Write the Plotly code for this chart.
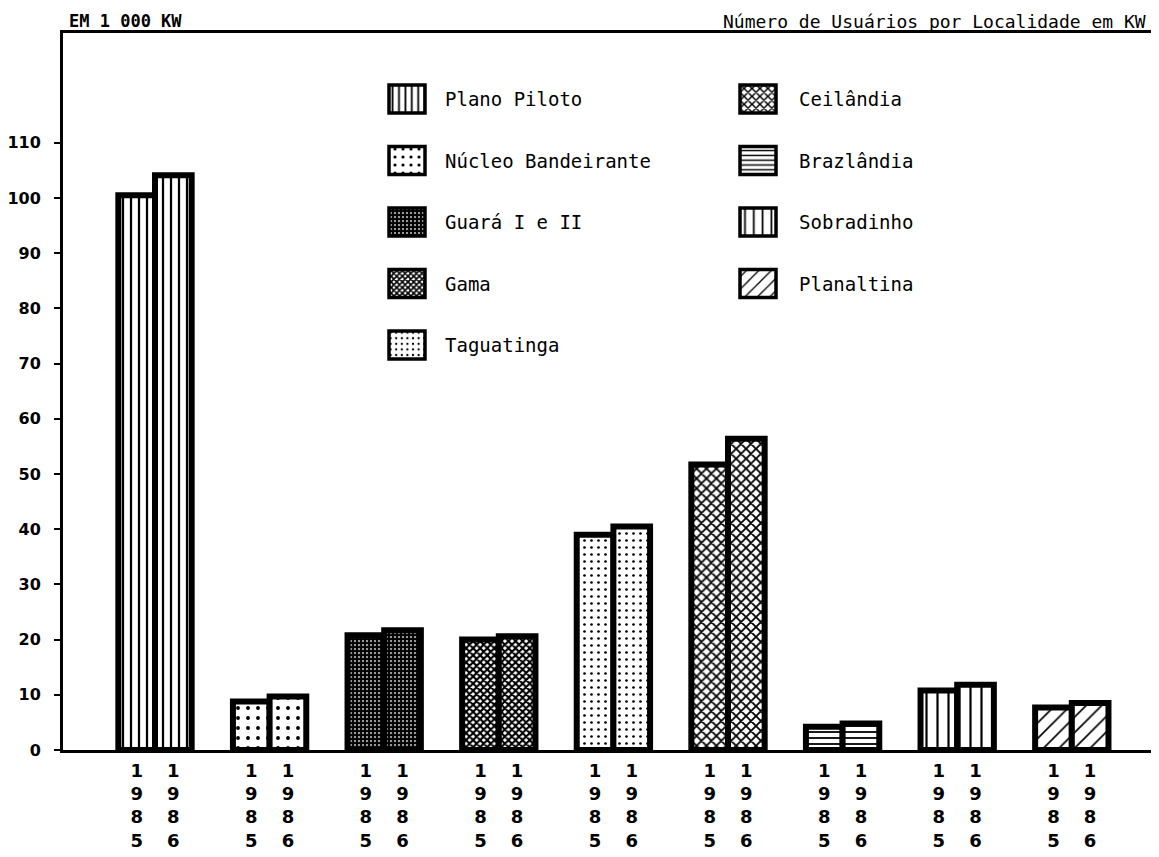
import plotly.graph_objects as go

# ---- data ----
localidades = ["Plano Piloto", "Núcleo Bandeirante", "Guará I e II", "Gama", "Taguatinga",
               "Ceilândia", "Brazlândia", "Sobradinho", "Planaltina"]
years = ["1985", "1986"]
v1985 = [100.5, 8.8, 20.8, 20.0, 39.0, 51.7, 4.2, 10.8, 7.7]
v1986 = [104.1, 9.7, 21.7, 20.6, 40.5, 56.4, 4.8, 11.8, 8.5]
y_ticks = [0, 10, 20, 30, 40, 50, 60, 70, 80, 90, 100, 110]

# ---- styles (patterns per locality) ----
pat_shape = ["|", ".", ".", "x", ".", "x", "-", "|", "/"]
pat_size = [8, 10, 4, 5, 7, 7, 6, 11, 11]
pat_solid = [0.28, 0.12, 0.8, 0.65, 0.12, 0.45, 0.3, 0.2, 0.15]

# page body has an 8px margin; work in screenshot pixels and convert
OFF = 8
W, H = 1159 - OFF, 857 - OFF
L, R, T, B = 63, 1153, 33, 750  # plot area in screenshot pixels


def px_x(px):
    return (px - L) / (R - L)


def px_y(py):
    return (B - py) / (B - T)


fig = go.Figure()

idx = list(range(len(localidades)))
bw = 0.32
for k, (yr, vals) in enumerate(zip(years, [v1985, v1986])):
    fig.add_trace(go.Bar(
        x=idx, y=vals, width=bw, offset=-bw if k == 0 else 0,
        name=yr, showlegend=False,
        marker=dict(color="white",
                    line=dict(color="black", width=6),
                    pattern=dict(shape=pat_shape, size=pat_size, solidity=pat_solid,
                                 fgcolor="black", bgcolor="white", fillmode="replace")),
        hovertext=localidades,
    ))

# ---- custom legend drawn with bars on a pixel-mapped overlay axis ----
col_x = [407, 758]
text_x = [443, 797]
row0, row_dy = 99, 61.5
sw_w, sw_h = 36, 28
lx, ly = [], []
for j, name in enumerate(localidades):
    col = 0 if j < 5 else 1
    row = j if j < 5 else j - 5
    cy = row0 + row * row_dy
    lx.append(col_x[col])
    ly.append(cy)
    fig.add_annotation(x=px_x(text_x[col]), y=px_y(cy), xref="paper", yref="paper", text=name,
                       showarrow=False, xanchor="left", yanchor="middle",
                       font=dict(family="DejaVu Sans Mono", size=19, color="black"))
fig.add_trace(go.Bar(
    x=lx, y=[sw_h] * len(lx), base=[c - sw_h / 2 for c in ly], width=sw_w,
    xaxis="x2", yaxis="y2", showlegend=False, hoverinfo="skip",
    marker=dict(color="white", line=dict(color="black", width=3.5),
                pattern=dict(shape=pat_shape, size=[max(4, s * 0.8) for s in pat_size],
                             solidity=pat_solid, fgcolor="black", bgcolor="white",
                             fillmode="replace")),
))

fig.add_annotation(x=px_x(67), y=px_y(OFF + 1), xref="paper", yref="paper",
                   text="<b>EM 1 000 KW</b>",
                   showarrow=False, xanchor="left", yanchor="top",
                   font=dict(family="DejaVu Sans Mono", size=17, color="black"))
fig.add_annotation(x=px_x(1148), y=px_y(OFF + 0.5), xref="paper", yref="paper",
                   text="Número de Usuários por Localidade em KW",
                   showarrow=False, xanchor="right", yanchor="top",
                   font=dict(family="DejaVu Sans Mono", size=18, color="black"))

tickvals, ticktext = [], []
for i in idx:
    for k, yr in enumerate(years):
        tickvals.append(i - bw / 2 if k == 0 else i + bw / 2)
        ticktext.append("<br>".join(yr))

px_per_unit = 114.6
x_left = -(155 - L) / px_per_unit
x_right = (R - 155) / px_per_unit

fig.update_layout(
    width=W, height=H,
    margin=dict(l=L - OFF, r=W - (R - OFF), t=T - OFF, b=H - (B - OFF), autoexpand=False),
    paper_bgcolor="white", plot_bgcolor="white",
    barmode="overlay",
    font=dict(family="DejaVu Sans", color="black"),
    xaxis=dict(range=[x_left, x_right], tickvals=tickvals, ticktext=ticktext,
               showline=True, linewidth=3, linecolor="black", mirror=True,
               showgrid=False, zeroline=False, ticks="", automargin=False,
               tickfont=dict(family="DejaVu Sans", size=18, color="black", weight="bold"),
               ticklabelstandoff=2),
    yaxis=dict(range=[0, (B - T) / 5.52], tickvals=y_ticks, automargin=False,
               showline=True, linewidth=3, linecolor="black", mirror=True,
               showgrid=False, zeroline=False, ticks="outside", ticklen=6, tickwidth=2,
               tickcolor="black",
               tickfont=dict(family="DejaVu Sans", size=16, color="black", weight="bold"),
               ticklabelstandoff=10),
    xaxis2=dict(range=[L, R], overlaying="x", anchor="y2", visible=False, fixedrange=True),
    yaxis2=dict(range=[B, T], overlaying="y", anchor="x2", visible=False, fixedrange=True),
)

fig.write_html("out.html")
